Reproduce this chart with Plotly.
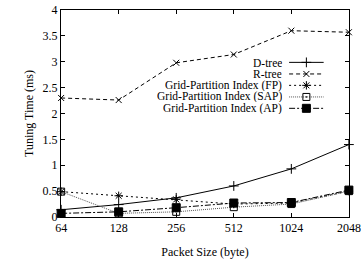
import plotly.graph_objects as go

packet_sizes = [64, 128, 256, 512, 1024, 2048]
tick_labels = ["64", "128", "256", "512", "1024", "2048"]
y_ticks = [0, 0.5, 1, 1.5, 2, 2.5, 3, 3.5, 4]
y_tick_labels = ["0", "0.5", "1", "1.5", "2", "2.5", "3", "3.5", "4"]

series_names = ["D-tree", "R-tree", "Grid-Partition Index (FP)",
                "Grid-Partition Index (SAP)", "Grid-Partition Index (AP)"]
d_tree = [0.14, 0.24, 0.37, 0.60, 0.93, 1.40]
r_tree = [2.30, 2.26, 2.98, 3.14, 3.60, 3.57]
gpi_fp = [0.49, 0.41, 0.34, 0.25, 0.27, 0.50]
gpi_sap = [0.49, 0.07, 0.10, 0.19, 0.25, 0.50]
gpi_ap = [0.07, 0.10, 0.18, 0.27, 0.28, 0.52]

series = [d_tree, r_tree, gpi_fp, gpi_sap, gpi_ap]
styles = [
    dict(dash="solid", symbol="cross-thin-open", size=7, lc="black", lw=1),
    dict(dash="4px,3px", symbol="x-thin-open", size=6, lc="black", lw=1),
    dict(dash="2px,3px", symbol="asterisk-open", size=7, lc="black", lw=1),
    dict(dash="1px,1px", symbol="square-open-dot", size=7, lc="#555555", lw=1),
    dict(dash="6px,2px,2px,2px", symbol="square", size=8, lc="black", lw=1),
]

FONT = "Liberation Serif, serif"

fig = go.Figure()
for name, vals, st in zip(series_names, series, styles):
    fig.add_trace(go.Scatter(
        x=packet_sizes, y=vals, mode="lines+markers", name=name,
        line=dict(color=st["lc"], width=st["lw"], dash=st["dash"]),
        marker=dict(symbol=st["symbol"], size=st["size"], color="black",
                    line=dict(color="black", width=1)),
        showlegend=False, cliponaxis=False,
    ))

# custom legend (text right-aligned, sample line to the right)
legend_rows_y = [0.747, 0.691, 0.636, 0.580, 0.525]
legend_text_x = 0.77
legend_sample_x = [0.792, 0.912]
for name, st, ly in zip(series_names, styles, legend_rows_y):
    fig.add_trace(go.Scatter(
        x=legend_sample_x, y=[ly, ly], mode="lines", xaxis="x2", yaxis="y2",
        line=dict(color=st["lc"], width=st["lw"], dash=st["dash"]),
        showlegend=False, hoverinfo="skip"))
    fig.add_trace(go.Scatter(
        x=[sum(legend_sample_x) / 2], y=[ly], mode="markers", xaxis="x2", yaxis="y2",
        marker=dict(symbol=st["symbol"], size=st["size"], color="black",
                    line=dict(color="black", width=1)),
        showlegend=False, hoverinfo="skip"))
    fig.add_annotation(text=name, x=legend_text_x, y=ly, xref="paper", yref="paper",
                       xanchor="right", yanchor="middle", showarrow=False,
                       height=11, borderpad=0,
                       font=dict(family=FONT, size=11.5, color="black"))

fig.update_layout(
    width=361, height=259,
    margin=dict(l=61, r=12, t=10, b=42, autoexpand=False),
    paper_bgcolor="white", plot_bgcolor="white",
    font=dict(family=FONT, size=12, color="black"),
    xaxis=dict(type="log", range=[1.8055, 3.3119], tickvals=packet_sizes, ticktext=tick_labels,
               showline=True, linecolor="black", linewidth=1, mirror="ticks",
               ticks="inside", ticklen=4, tickcolor="black", showgrid=False, zeroline=False,
               automargin=False,
               title=dict(text="Packet Size (byte)", standoff=13,
                          font=dict(family=FONT, size=12))),
    yaxis=dict(range=[0, 4], tickvals=y_ticks, ticktext=y_tick_labels,
               showline=True, linecolor="black", linewidth=1, mirror="ticks",
               ticks="inside", ticklen=4, tickcolor="black", showgrid=False, zeroline=False,
               automargin=False,
               title=dict(text="Tuning Time (ms)", standoff=6,
                          font=dict(family=FONT, size=12))),
    xaxis2=dict(overlaying="x", range=[0, 1], visible=False),
    yaxis2=dict(overlaying="y", range=[0, 1], visible=False),
)

fig.write_html("out.html", config={"displayModeBar": False},
               post_script="document.body.style.margin='0';")
